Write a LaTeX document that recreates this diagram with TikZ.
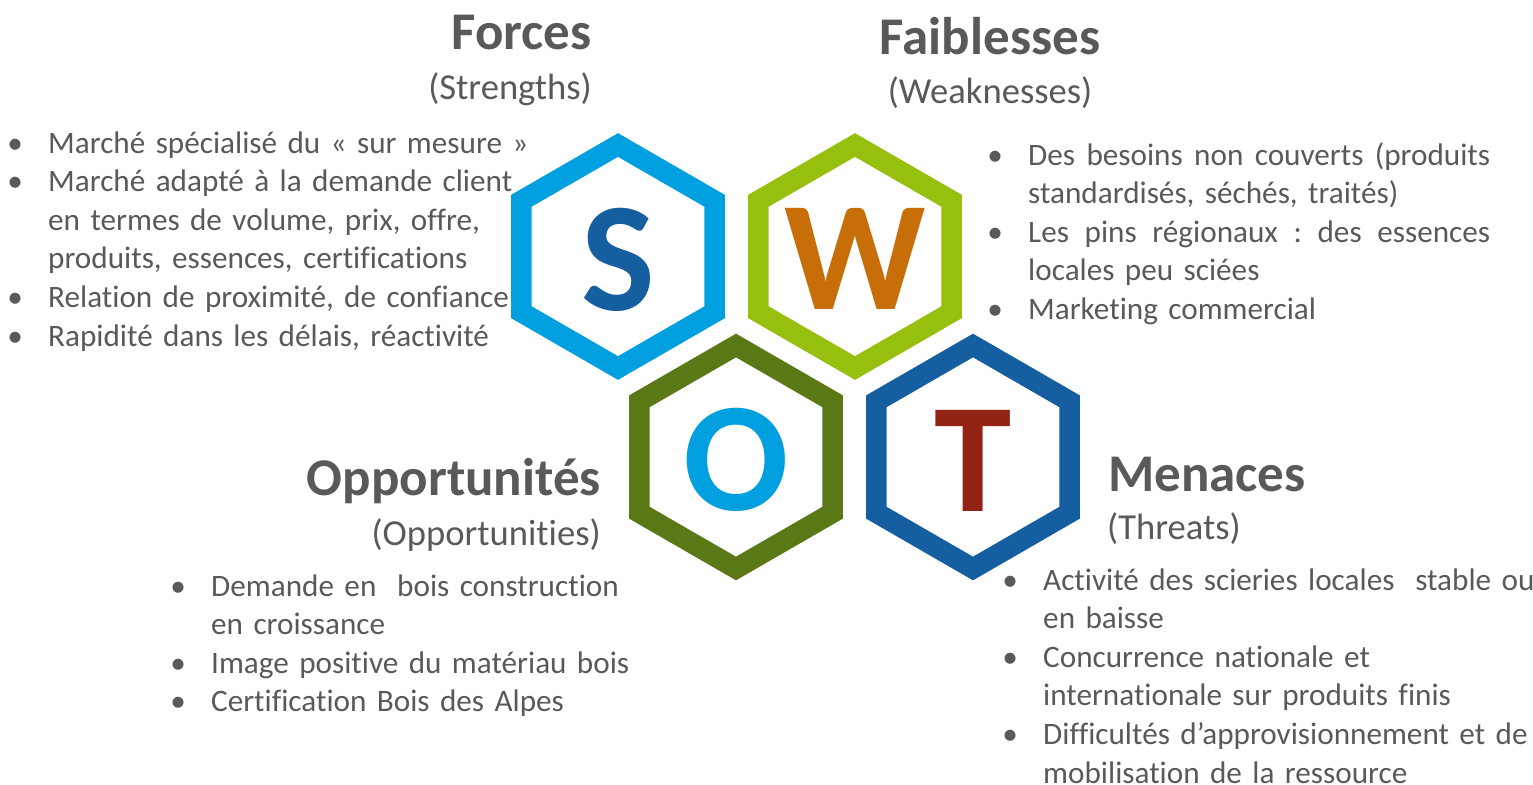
\documentclass[tikz,border=0pt]{standalone}
\usepackage{fontspec}
\setmainfont{Carlito}[Ligatures=NoCommon]
\usepackage{tikz}
\definecolor{gristexte}{HTML}{595959}
\definecolor{bleuclair}{HTML}{009FE0}
\definecolor{bleufonce}{HTML}{155FA0}
\definecolor{vertclair}{HTML}{97BF0D}
\definecolor{vertfonce}{HTML}{5B7816}
\definecolor{orange}{HTML}{C76E08}
\definecolor{rougebrun}{HTML}{922315}
\newcommand\puce[1]{\leftskip=33pt\noindent\llap{\makebox[66pt]{•}}#1\par}
\newcommand\justif[1]{\hbox to 462pt{\spaceskip=0.226em plus 1fil\relax #1}}
\tikzset{
  hexa/.style={line width=20.5pt},
  lettre/.style={inner sep=0pt, font=\bfseries\fontsize{156}{160}\selectfont},
  titre/.style={inner sep=0pt, text=gristexte, font=\bfseries\fontsize{53}{60}\selectfont},
  soustitre/.style={inner sep=0pt, text=gristexte, font=\fontsize{36.6}{44}\selectfont},
  liste/.style={anchor=base west, inner sep=0pt, text width=#1, text=gristexte, font=\fontsize{31.2}{38.6}\selectfont\frenchspacing}
}
\begin{document}
\begin{tikzpicture}[x=1pt,y=-1pt]
\useasboundingbox (0,0) rectangle (1533,784);

% les quatre hexagones
\draw[hexa,draw=bleuclair] (618,256.5) +(90:111.5) -- +(150:111.5) -- +(210:111.5) -- +(270:111.5) -- +(330:111.5) -- +(30:111.5) -- cycle;
\draw[hexa,draw=vertclair] (855,256.5) +(90:111.5) -- +(150:111.5) -- +(210:111.5) -- +(270:111.5) -- +(330:111.5) -- +(30:111.5) -- cycle;
\draw[hexa,draw=vertfonce] (736,457) +(90:111.5) -- +(150:111.5) -- +(210:111.5) -- +(270:111.5) -- +(330:111.5) -- +(30:111.5) -- cycle;
\draw[hexa,draw=bleufonce] (973,457) +(90:111.5) -- +(150:111.5) -- +(210:111.5) -- +(270:111.5) -- +(330:111.5) -- +(30:111.5) -- cycle;

\node[lettre,text=bleufonce] (lettreS) at (618,260) {S};
\node[lettre,text=orange] (lettreW) at (855,259) {W};
\node[lettre,text=bleuclair] (lettreO) at (736,460) {O};
\node[lettre,text=rougebrun] (lettreT) at (973,461) {T};

% titres
\node[titre,anchor=base east] (forces) at (592,50) {Forces};
\node[soustitre,anchor=base east] (forcesEn) at (592,99) {(Strengths)};
\node[titre,anchor=base] (faiblesses) at (990,55) {Faiblesses};
\node[soustitre,anchor=base] (faiblessesEn) at (990,103) {(Weaknesses)};
\node[titre,anchor=base east] (opport) at (601,495) {Opportunités};
\node[soustitre,anchor=base east] (opportEn) at (601,545) {(Opportunities)};
\node[titre,anchor=base west] (menaces) at (1108,491) {Menaces};
\node[soustitre,anchor=base west] (menacesEn) at (1107,539) {(Threats)};

% listes
\node[liste=560pt] (listeS) at (15,153) {\rightskip=0pt plus 1fil\relax
\puce{Marché spécialisé du « sur mesure »}
\puce{Marché adapté à la demande client\newline en termes de volume, prix, offre,\newline produits, essences, certifications}
\puce{Relation de proximité, de confiance}
\puce{Rapidité dans les délais, réactivité}};

\node[liste=500pt] (listeW) at (995,165) {\rightskip=0pt plus 1fil\relax
\puce{\justif{Des besoins non couverts (produits}\newline standardisés, séchés, traités)}
\puce{\justif{Les pins régionaux : des essences}\newline locales peu sciées}
\puce{Marketing commercial}};

\node[liste=500pt] (listeO) at (178,596) {\rightskip=0pt plus 1fil\relax
\puce{Demande en~ bois construction\newline en croissance}
\puce{Image positive du matériau bois}
\puce{Certification Bois des Alpes}};

\node[liste=560pt] (listeT) at (1010,590) {\rightskip=0pt plus 1fil\relax
\puce{Activité des scieries locales~ stable ou\newline en baisse}
\puce{Concurrence nationale et\newline internationale sur produits finis}
\puce{Difficultés d’approvisionnement et de\newline mobilisation de la ressource}};
\end{tikzpicture}
\end{document}
